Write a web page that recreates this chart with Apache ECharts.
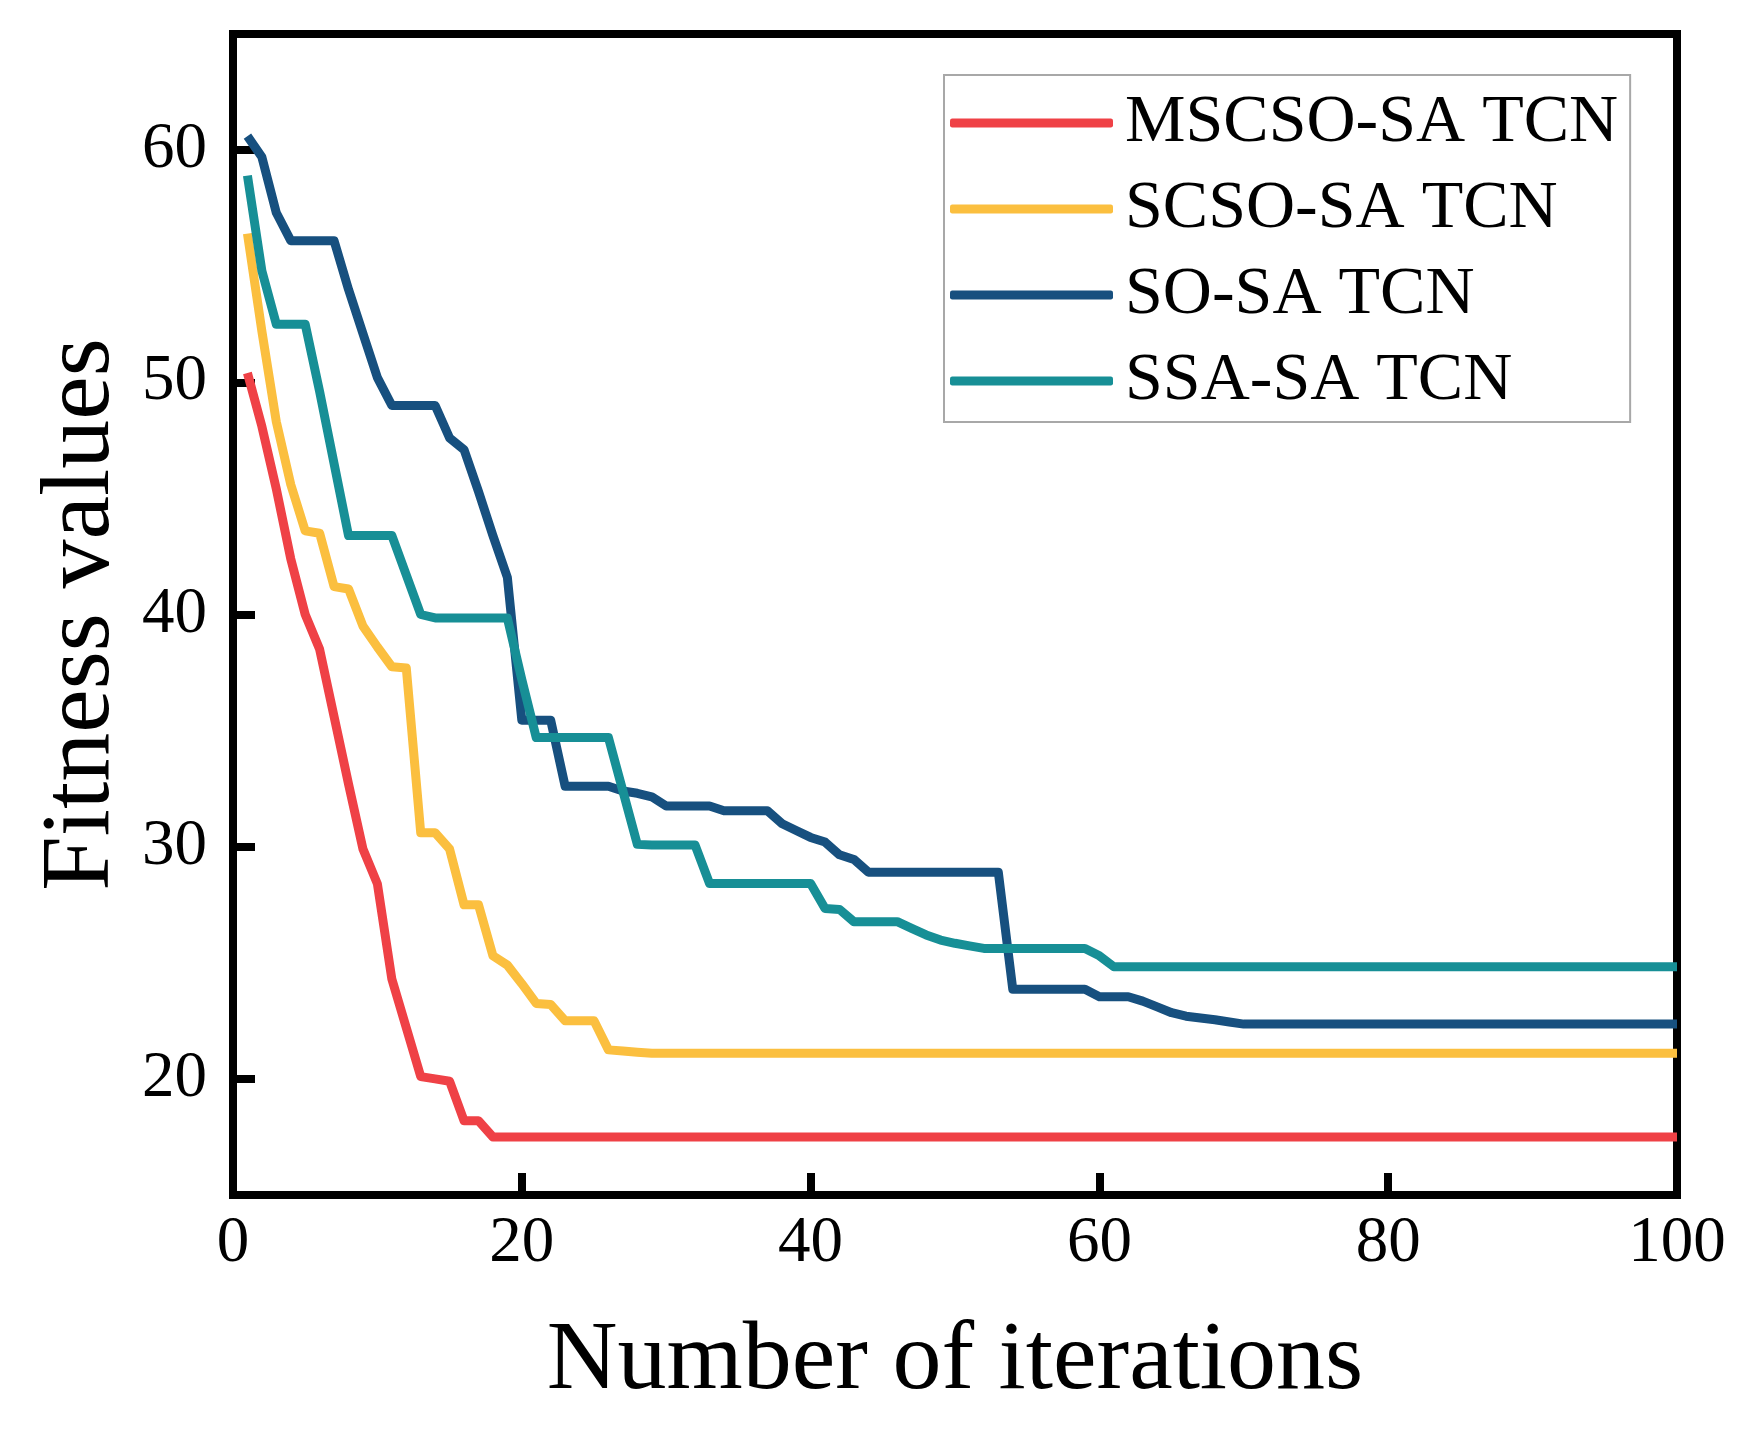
<!DOCTYPE html>
<html>
<head>
<meta charset="utf-8">
<script src="https://cdn.jsdelivr.net/npm/echarts@6/dist/echarts.min.js"></script>
<style>
html,body{margin:0;padding:0;background:#fff;}
#chart{width:1743px;height:1436px;}
</style>
</head>
<body>
<div id="chart"></div>
<script>
var seriesNames = ['MSCSO-SA TCN', 'SCSO-SA TCN', 'SO-SA TCN', 'SSA-SA TCN'];
var xTicks = [0, 20, 40, 60, 80, 100];
var yTicks = [20, 30, 40, 50, 60];

var mscso = [
  50.4,48.1,45.4,42.4,40.0,38.5,35.6,32.7,29.9,28.4,
  24.3,22.2,20.1,20.0,19.9,18.2,18.2,17.5,17.5,17.5,
  17.5,17.5,17.5,17.5,17.5,17.5,17.5,17.5,17.5,17.5,
  17.5,17.5,17.5,17.5,17.5,17.5,17.5,17.5,17.5,17.5,
  17.5,17.5,17.5,17.5,17.5,17.5,17.5,17.5,17.5,17.5,
  17.5,17.5,17.5,17.5,17.5,17.5,17.5,17.5,17.5,17.5,
  17.5,17.5,17.5,17.5,17.5,17.5,17.5,17.5,17.5,17.5,
  17.5,17.5,17.5,17.5,17.5,17.5,17.5,17.5,17.5,17.5,
  17.5,17.5,17.5,17.5,17.5,17.5,17.5,17.5,17.5,17.5,
  17.5,17.5,17.5,17.5,17.5,17.5,17.5,17.5,17.5,17.5
];
var scso = [
  56.4,52.2,48.3,45.6,43.6,43.5,41.2,41.1,39.5,38.6,
  37.75,37.7,30.6,30.6,29.9,27.5,27.5,25.3,24.9,24.1,
  23.25,23.2,22.5,22.5,22.5,21.25,21.2,21.15,21.1,21.1,
  21.1,21.1,21.1,21.1,21.1,21.1,21.1,21.1,21.1,21.1,
  21.1,21.1,21.1,21.1,21.1,21.1,21.1,21.1,21.1,21.1,
  21.1,21.1,21.1,21.1,21.1,21.1,21.1,21.1,21.1,21.1,
  21.1,21.1,21.1,21.1,21.1,21.1,21.1,21.1,21.1,21.1,
  21.1,21.1,21.1,21.1,21.1,21.1,21.1,21.1,21.1,21.1,
  21.1,21.1,21.1,21.1,21.1,21.1,21.1,21.1,21.1,21.1,
  21.1,21.1,21.1,21.1,21.1,21.1,21.1,21.1,21.1,21.1
];
var so = [
  60.6,59.7,57.3,56.1,56.1,56.1,56.1,54.0,52.1,50.2,
  49.0,49.0,49.0,49.0,47.6,47.1,45.3,43.4,41.6,35.45,
  35.45,35.45,32.6,32.6,32.6,32.6,32.4,32.3,32.15,31.75,
  31.75,31.75,31.75,31.55,31.55,31.55,31.55,31.0,30.7,30.4,
  30.2,29.65,29.45,28.9,28.9,28.9,28.9,28.9,28.9,28.9,
  28.9,28.9,28.9,23.86,23.86,23.86,23.86,23.86,23.86,23.54,
  23.54,23.54,23.35,23.1,22.85,22.7,22.62,22.55,22.45,22.36,
  22.36,22.36,22.36,22.36,22.36,22.36,22.36,22.36,22.36,22.36,
  22.36,22.36,22.36,22.36,22.36,22.36,22.36,22.36,22.36,22.36,
  22.36,22.36,22.36,22.36,22.36,22.36,22.36,22.36,22.36,22.36
];
var ssa = [
  58.9,54.8,52.5,52.5,52.5,49.6,46.5,43.4,43.4,43.4,
  43.4,41.7,40.0,39.85,39.85,39.85,39.85,39.85,39.85,37.2,
  34.7,34.7,34.7,34.7,34.7,34.7,32.4,30.1,30.07,30.07,
  30.07,30.07,28.42,28.42,28.42,28.42,28.42,28.42,28.42,28.42,
  27.34,27.3,26.77,26.77,26.77,26.77,26.48,26.2,25.98,25.84,
  25.73,25.62,25.62,25.62,25.62,25.62,25.62,25.62,25.62,25.3,
  24.83,24.83,24.83,24.83,24.83,24.83,24.83,24.83,24.83,24.83,
  24.83,24.83,24.83,24.83,24.83,24.83,24.83,24.83,24.83,24.83,
  24.83,24.83,24.83,24.83,24.83,24.83,24.83,24.83,24.83,24.83,
  24.83,24.83,24.83,24.83,24.83,24.83,24.83,24.83,24.83,24.83
];

var colors = ['#EF4146', '#FBBF3F', '#17507F', '#178F96'];
var allValues = [mscso, scso, so, ssa];

function toPairs(arr) {
  var out = [];
  for (var i = 0; i < arr.length; i++) out.push([i + 1, arr[i]]);
  return out;
}

var FONT = "'Liberation Serif', 'Times New Roman', serif";

var chart = echarts.init(document.getElementById('chart'), null, {renderer: 'canvas'});
chart.setOption({
  animation: false,
  backgroundColor: '#fff',
  grid: {
    left: 233, right: 66, top: 34, bottom: 241,
    show: true, borderColor: '#000', borderWidth: 8, backgroundColor: 'transparent'
  },
  legend: {
    orient: 'vertical',
    left: 944, top: 75,
    padding: [14, 12, 7, 6],
    borderColor: '#a8a8a8', borderWidth: 2,
    itemWidth: 163, itemHeight: 9, itemGap: 18,
    icon: 'roundRect',
    textStyle: {fontFamily: FONT, fontSize: 68, color: '#000', padding: [0, 0, 0, 7]},
    data: seriesNames
  },
  xAxis: {
    type: 'value', min: 0, max: 100, interval: 20,
    name: 'Number of iterations', nameLocation: 'middle', nameGap: 118,
    nameTextStyle: {fontFamily: FONT, fontSize: 98, color: '#000'},
    axisLine: {show: false},
    axisTick: {show: true, inside: true, length: 22, lineStyle: {color: '#000', width: 8}},
    axisLabel: {fontFamily: FONT, fontSize: 65, color: '#000', margin: 16,
      customValues: xTicks},
    splitLine: {show: false}
  },
  yAxis: {
    type: 'value', min: 15, max: 65,
    name: 'Fitness values', nameLocation: 'middle', nameGap: 100,
    nameTextStyle: {fontFamily: FONT, fontSize: 98, color: '#000'},
    axisLine: {show: false},
    axisTick: {show: true, inside: true, length: 22, lineStyle: {color: '#000', width: 8},
      customValues: yTicks},
    axisLabel: {fontFamily: FONT, fontSize: 65, color: '#000', margin: 26,
      customValues: yTicks},
    splitLine: {show: false}
  },
  series: seriesNames.map(function (name, i) {
    return {
      name: name, type: 'line', symbol: 'none', showSymbol: false,
      data: toPairs(allValues[i]),
      itemStyle: {color: colors[i]},
      lineStyle: {color: colors[i], width: 9, join: 'round'},
      z: 2 + (i === 3 ? 1 : 0)
    };
  })
});
</script>
</body>
</html>
